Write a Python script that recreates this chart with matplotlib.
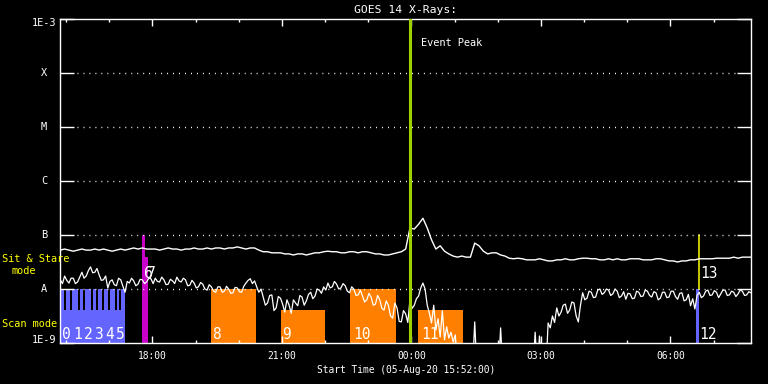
import numpy as np
import matplotlib
matplotlib.use("Agg")
import matplotlib.pyplot as plt
from matplotlib.transforms import blended_transform_factory
from matplotlib.ticker import FixedLocator, NullLocator

# ---------------- data ----------------
start_time = "15:52"
span_hours = 16
long_step_min = 6
short_step_min = 3

# GOES 14 long channel (1-8 A), log10 flux W/m^2, one value every 6 min from 15:52
long_log = [
    -7.28, -7.26, -7.28, -7.30, -7.28, -7.26, -7.28, -7.28, -7.26, -7.28,
    -7.26, -7.28, -7.30, -7.28, -7.26, -7.28, -7.26, -7.24, -7.26, -7.24,
    -7.26, -7.26, -7.26, -7.28, -7.26, -7.24, -7.26, -7.26, -7.28, -7.26,
    -7.26, -7.24, -7.26, -7.26, -7.24, -7.26, -7.24, -7.24, -7.26, -7.24,
    -7.24, -7.22, -7.24, -7.26, -7.24, -7.24, -7.28, -7.31, -7.31, -7.33,
    -7.33, -7.33, -7.35, -7.35, -7.37, -7.35, -7.35, -7.37, -7.35, -7.33,
    -7.33, -7.31, -7.30, -7.31, -7.31, -7.33, -7.33, -7.31, -7.31, -7.33,
    -7.31, -7.31, -7.33, -7.35, -7.35, -7.37, -7.37, -7.35, -7.33, -7.31,
    -7.26, -6.87, -6.89, -6.80, -6.69, -6.87, -7.09, -7.26, -7.20, -7.30,
    -7.35, -7.39, -7.41, -7.39, -7.41, -7.41, -7.15, -7.20, -7.30, -7.35,
    -7.33, -7.33, -7.37, -7.39, -7.43, -7.44, -7.43, -7.44, -7.46, -7.46,
    -7.46, -7.44, -7.46, -7.48, -7.48, -7.46, -7.46, -7.44, -7.46, -7.46,
    -7.44, -7.43, -7.43, -7.44, -7.44, -7.46, -7.46, -7.44, -7.46, -7.44,
    -7.46, -7.46, -7.44, -7.44, -7.44, -7.46, -7.46, -7.46, -7.44, -7.44,
    -7.46, -7.48, -7.48, -7.50, -7.48, -7.48, -7.46, -7.46, -7.44, -7.44,
    -7.44, -7.44, -7.43, -7.43, -7.43, -7.43, -7.41, -7.43, -7.41, -7.41, -7.41,
]

# GOES 14 short channel (0.5-4 A), log10 flux, every 3 min; -9.5 = below 1E-9 floor
short_log = [
    -7.83, -7.90, -7.76, -7.84, -7.89, -7.80, -7.80, -7.90, -7.87, -7.78,
    -7.69, -7.80, -7.76, -7.66, -7.59, -7.70, -7.69, -7.62, -7.74, -7.84,
    -7.83, -7.76, -7.98, -7.86, -7.83, -7.92, -7.94, -7.80, -7.83, -7.95,
    -8.06, -7.86, -7.89, -7.80, -7.85, -7.94, -7.91, -7.82, -7.83, -7.90,
    -7.87, -7.80, -7.81, -7.90, -7.80, -7.86, -7.87, -7.78, -7.83, -7.92,
    -7.91, -7.82, -7.85, -7.90, -7.78, -7.85, -7.87, -7.80, -7.83, -7.94,
    -7.93, -7.84, -7.89, -7.98, -7.96, -7.88, -7.91, -8.00, -8.02, -7.92,
    -7.96, -8.04, -8.06, -7.96, -7.96, -8.06, -8.04, -7.95, -8.00, -8.08,
    -8.07, -7.97, -7.98, -8.05, -8.06, -7.95, -7.89, -7.84, -7.81, -7.90,
    -7.85, -7.96, -8.06, -8.00, -8.15, -8.30, -8.26, -8.12, -8.11, -8.40,
    -8.35, -8.14, -8.17, -8.28, -8.43, -8.20, -8.30, -8.45, -8.20, -8.26,
    -8.31, -8.12, -8.15, -8.30, -8.22, -8.10, -8.06, -8.18, -8.13, -8.00,
    -8.02, -8.08, -7.96, -8.02, -7.89, -7.98, -7.96, -7.86, -7.91, -8.00,
    -7.98, -7.90, -7.94, -8.04, -8.07, -7.96, -8.00, -8.12, -8.11, -8.02,
    -8.13, -8.24, -8.20, -8.08, -8.15, -8.30, -8.28, -8.12, -8.20, -8.36,
    -8.39, -8.22, -8.30, -8.50, -8.54, -8.26, -8.35, -8.60, -8.61, -8.40,
    -8.46, -8.62, -8.20, -8.36, -8.30, -8.18, -8.13, -7.98, -7.89, -8.00,
    -8.30, -8.45, -8.63, -8.30, -8.76, -8.55, -8.89, -8.40, -8.94, -8.70,
    -8.91, -8.80, -8.98, -8.85, -9.50, -9.50, -9.50, -9.50, -9.50, -9.50,
    -9.50, -9.50, -8.61, -9.50, -9.50, -9.50, -9.50, -9.50, -9.50, -9.50,
    -9.50, -9.50, -9.50, -9.50, -8.72, -9.50, -9.50, -9.50, -9.50, -9.50,
    -9.50, -9.50, -9.50, -9.50, -9.50, -9.50, -9.50, -9.50, -9.50, -9.50,
    -8.80, -9.50, -8.87, -9.50, -9.50, -9.50, -8.63, -8.72, -8.50, -8.62,
    -8.35, -8.50, -8.43, -8.30, -8.28, -8.45, -8.39, -8.24, -8.26, -8.50,
    -8.61, -8.30, -8.07, -8.20, -8.17, -8.04, -8.06, -8.16, -8.15, -8.02,
    -8.00, -8.10, -8.07, -8.00, -8.02, -8.12, -8.09, -8.00, -8.04, -8.16,
    -8.13, -8.05, -8.19, -8.08, -8.09, -8.18, -8.17, -8.04, -8.06, -8.14,
    -8.13, -8.02, -8.04, -8.12, -8.15, -8.05, -8.07, -8.20, -8.17, -8.06,
    -8.06, -8.16, -8.15, -8.04, -8.04, -8.14, -8.19, -8.08, -8.07, -8.22,
    -8.20, -8.10, -8.31, -8.18, -8.37, -8.12, -8.06, -8.16, -8.13, -8.04,
    -8.02, -8.12, -8.11, -8.03, -8.06, -8.16, -8.09, -8.02, -8.02, -8.12,
    -8.11, -8.04, -8.06, -8.14, -8.09, -8.02, -8.04, -8.12, -8.11, -8.05,
    -8.07,
]

# observation intervals (start, end, top flux W/m^2)
scan_base = ("15:53", "17:22", 4.1e-9)
scan_tall = [("15:53", "15:57"), ("16:00", "16:05"), ("16:08", "16:17"),
             ("16:19", "16:24"), ("16:26", "16:35"), ("16:37", "16:42"),
             ("16:44", "16:50"), ("16:53", "16:58"), ("17:01", "17:08"),
             ("17:11", "17:14"), ("17:16", "17:22")]
scan_tall_top = 1e-8
scan_labels = ["0", "1", "2", "3", "4", "5"]
scan_label_times = ["15:55", "16:10", "16:25", "16:39", "16:54", "17:09"]

sit_bars = [("17:46", "17:50", 1e-7), ("17:46", "17:54", 3.9e-8)]
sit_labels = [("6", "17:48"), ("7", "17:52")]

orange_bars = [("19:21", "20:24", 1e-8, "8", "19:23"),
               ("20:59", "22:00", 4.1e-9, "9", "21:00"),
               ("22:35", "23:38", 1e-8, "10", "22:39"),
               ("00:09", "01:12", 4.1e-9, "11", "00:14")]

blue_late = ("06:36", "06:40", 1e-8, "12", "06:40")
yellow_line = ("06:40", 1e-8, 1e-7, "13", "06:41")

event_peak = "23:58"

level_values = [1e-9, 1e-8, 1e-7, 1e-6, 1e-5, 1e-4, 1e-3]
level_labels = ["1E-9", "A", "B", "C", "M", "X", "1E-3"]
grid_levels = [1e-8, 1e-7, 1e-6, 1e-5, 1e-4]

xtick_hours = [18, 21, 24, 27, 30]
xtick_labels = ["18:00", "21:00", "00:00", "03:00", "06:00"]

title = "GOES 14 X-Rays:"
xlabel = "Start Time (05-Aug-20 15:52:00)"


def hm(s):
    h, m = map(int, s.split(":"))
    v = h + m / 60.0
    if v < 12:
        v += 24
    return v


t0 = hm(start_time)
t_long = t0 + np.arange(len(long_log)) * long_step_min / 60.0
t_short = t0 + np.arange(len(short_log)) * short_step_min / 60.0

# ---------------- figure ----------------
W, H = 768, 384
fig = plt.figure(figsize=(W / 100, H / 100), dpi=100, facecolor="black")
ax = fig.add_axes([60.3 / W, 41 / H, 690.7 / W, 324 / H])
ax.set_facecolor("black")
ax.set_yscale("log")
ax.set_ylim(1e-9, 1e-3)
ax.set_xlim(t0, t0 + span_hours)

BLUE = "#6464ff"
ORANGE = "#ff8000"
MAGENTA = "#c800c8"
GREEN = "#a0d000"
YELLOW = "#ffff00"
MONO = "DejaVu Sans Mono"
floor = 1e-10
fs_small = 7.4
fs_title = 8.2
fs_xlab = 6.9
fs_tick = 6.9
fs_num = 10.5


def bar(s, e, top, color):
    a, b = hm(s), hm(e)
    ax.bar(a, top - floor, width=b - a, bottom=floor, align="edge",
           color=color, linewidth=0, zorder=1)


bar(scan_base[0], scan_base[1], scan_base[2], BLUE)
for s, e in scan_tall:
    bar(s, e, scan_tall_top, BLUE)
for s, e, top in sit_bars:
    bar(s, e, top, MAGENTA)
for s, e, top, lab, lt in orange_bars:
    bar(s, e, top, ORANGE)
bar(blue_late[0], blue_late[1], blue_late[2], BLUE)

ax.plot([hm(yellow_line[0])] * 2, [yellow_line[1], yellow_line[2]],
        color=YELLOW, lw=1.1, zorder=2)

# dotted level lines
bl = blended_transform_factory(ax.transAxes, ax.transData)
for v in grid_levels:
    ax.plot([0.024, 0.978], [v, v], transform=bl, color="white", lw=1.0,
            dashes=(0.7, 3.6), zorder=2)

# curves
ax.plot(t_long, 10 ** np.array(long_log), color="white", lw=1.0, zorder=3)
ax.plot(t_short, 10 ** np.array(short_log), color="white", lw=0.9, zorder=3)

# event peak
ax.axvline(hm(event_peak), color=GREEN, lw=2.2, zorder=4)
bx = blended_transform_factory(ax.transData, ax.transAxes)
ax.annotate("Event Peak", xy=(hm(event_peak), 0.926), xycoords=bx,
            xytext=(7.7, 0), textcoords="offset points", color="white",
            fontsize=fs_small, family=MONO, ha="left", va="center", zorder=5)

# bar labels
num_base = 1.19e-9
num_kw = dict(color="white", fontsize=fs_num, family=MONO, ha="left",
              va="baseline", zorder=5)
for lab, lt in zip(scan_labels, scan_label_times):
    ax.text(hm(lt), num_base, lab, **num_kw)
for lab, lt in sit_labels:
    ax.text(hm(lt), 1.58e-8, lab, **num_kw)
for s, e, top, lab, lt in orange_bars:
    ax.text(hm(lt), num_base, lab, **num_kw)
ax.text(hm(blue_late[4]), num_base, blue_late[3], **num_kw)
ax.text(hm(yellow_line[4]), 1.58e-8, yellow_line[3], **num_kw)

# axes styling
for sp in ax.spines.values():
    sp.set_color("white")
    sp.set_linewidth(1.0)
ax.set_yticks(level_values)
ax.yaxis.set_minor_locator(NullLocator())
ax.tick_params(axis="y", which="major", direction="in", length=10, width=1,
               color="white", left=True, right=True, labelleft=False)
ax.set_xticks(xtick_hours)
ax.set_xticklabels(xtick_labels, family=MONO)
ax.xaxis.set_minor_locator(FixedLocator(np.arange(16, 32)))
ax.tick_params(axis="x", which="major", direction="in", length=5, width=1,
               color="white", top=True, bottom=True, labelcolor="white",
               labelsize=fs_tick, pad=5.5)
ax.tick_params(axis="x", which="minor", direction="in", length=2.5, width=1,
               color="white", top=True, bottom=True)
ax.set_xlabel(xlabel, color="white", fontsize=fs_xlab, family=MONO,
              labelpad=3)
ax.set_title(title, color="white", fontsize=fs_title, family=MONO, pad=4)

# y level labels
for v, lab in zip(level_values, level_labels):
    if lab.startswith("1E"):
        dy = 2.2 if v == 1e-9 else -3.0
        ax.annotate(lab, xy=(0, v), xycoords=bl, xytext=(-2.6, dy),
                    textcoords="offset points", color="white",
                    fontsize=fs_small, family=MONO, ha="right", va="center")
    else:
        ax.annotate(lab, xy=(0, v), xycoords=bl, xytext=(-11.7, 0),
                    textcoords="offset points", color="white",
                    fontsize=fs_small, family=MONO, ha="center", va="center")

# mode labels
fig.text(2 / W, 1 - 259 / H, "Sit & Stare", color=YELLOW,
         fontsize=fs_small, family=MONO, ha="left", va="center")
fig.text(24 / W, 1 - 271 / H, "mode", color=YELLOW,
         fontsize=fs_small, family=MONO, ha="center", va="center")
fig.text(2 / W, 1 - 324 / H, "Scan mode", color=YELLOW,
         fontsize=fs_small, family=MONO, ha="left", va="center")

fig.savefig("out.png", dpi=100, facecolor="black")
